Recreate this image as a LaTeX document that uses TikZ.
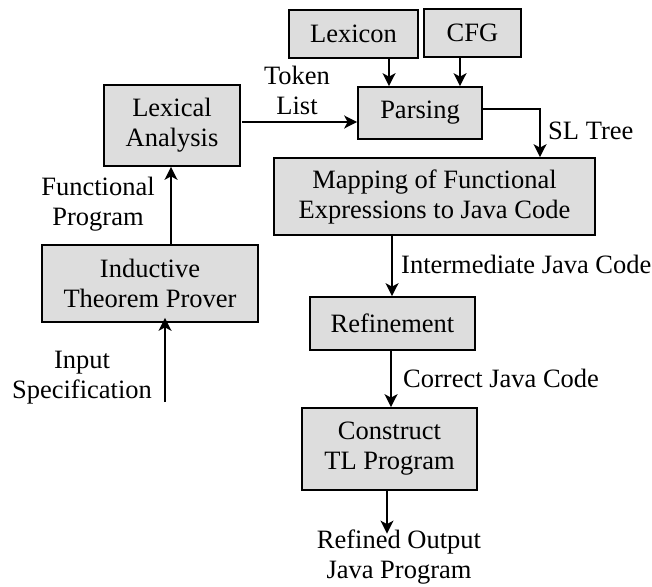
\documentclass[tikz,border=0pt]{standalone}
\usepackage{fontspec}
\setmainfont{Liberation Serif}
\usetikzlibrary{arrows.meta}
\definecolor{boxgray}{RGB}{221,221,221}
\begin{document}
\begin{tikzpicture}[x=1pt,y=-1pt,
  every node/.style={font=\fontsize{26.5}{30}\selectfont},
  box/.style={draw=black, fill=boxgray, line width=1.7pt, align=center, inner sep=0pt},
  lbl/.style={align=center, inner sep=0pt},
  arr/.style={line width=1.7pt, -{Stealth[length=13pt,width=13pt,inset=3.5pt]}}]
\useasboundingbox (0,0) rectangle (652,586);
% boxes
\node[box, minimum width=129pt, minimum height=48pt] (lexicon) at (353.5,34) {Lexicon};
\node[box, minimum width=97pt, minimum height=48pt] (cfg) at (472.5,33) {CFG};
\node[box, minimum width=124pt, minimum height=52pt] (parsing) at (420,113) {Parsing};
\node[box, minimum width=136pt, minimum height=81pt] (lexical) at (172,125.5) {Lexical\\Analysis};
\node[box, minimum width=321pt, minimum height=77pt] (mapping) at (434.5,196.5) {Mapping of Functional\\Expressions to Java Code};
\node[box, minimum width=216pt, minimum height=77pt] (itp) at (150,283.5) {Inductive\\Theorem Prover};
\node[box, minimum width=165pt, minimum height=53pt] (refine) at (392.5,323.5) {Refinement};
\node[box, minimum width=175pt, minimum height=82pt] (construct) at (389.5,449) {Construct\\TL Program};
% labels
\node[lbl] (token) at (297,90) {Token\\List};
\node[lbl, anchor=west] (sltree) at (548,131) {SL Tree};
\node[lbl] (funcprog) at (98,204) {Functional\\Program};
\node[lbl, anchor=west] (inter) at (401,264) {Intermediate Java Code};
\node[lbl, anchor=west] (correct) at (403,378) {Correct Java Code};
\node[lbl] (inspec) at (82,378) {Input\\Specification};
\node[lbl] (out) at (399,557) {Refined Output\\Java Program};
% helper coordinates
\coordinate (xlex) at (389,0);
\coordinate (xcfg) at (460,0);
\coordinate (ytok) at (0,122);
\coordinate (ypar) at (0,109);
\coordinate (xsl) at (540,0);
\coordinate (xmap) at (392,0);
\coordinate (xref) at (391,0);
\coordinate (xout) at (387,0);
\coordinate (xitp) at (171,0);
\coordinate (inp) at (165,402);
% connectors
\draw[arr] (lexicon.south -| xlex) -- (parsing.north -| xlex);
\draw[arr] (cfg.south -| xcfg) -- (parsing.north -| xcfg);
\draw[arr] ([xshift=1pt]lexical.east |- ytok) -- (parsing.west |- ytok);
\draw[arr] (parsing.east |- ypar) -| (mapping.north -| xsl);
\draw[arr] ([yshift=2pt]mapping.south -| xmap) -- (refine.north -| xmap);
\draw[arr] (refine.south -| xref) -- (construct.north -| xref);
\draw[arr] (construct.south -| xout) -- ([yshift=-4pt]out.north -| xout);
\draw[arr] (itp.north -| xitp) -- (lexical.south -| xitp);
\draw[arr] (inp) -- ([yshift=5pt]itp.south -| inp);
\end{tikzpicture}
\end{document}
